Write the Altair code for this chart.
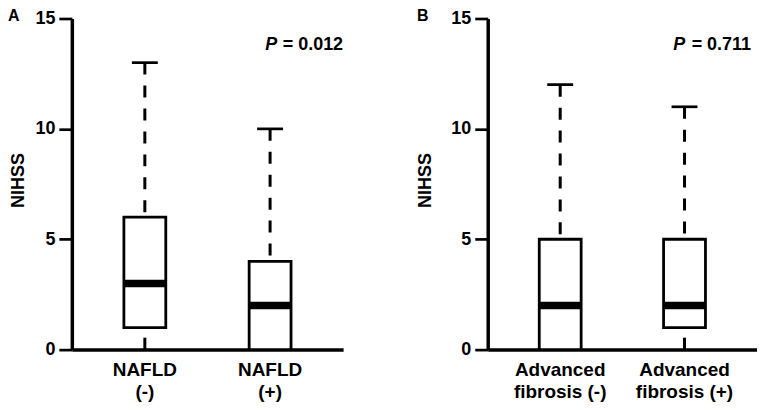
import altair as alt
import pandas as pd

# ---- data ----
groups_a = ["NAFLD (-)", "NAFLD (+)"]
min_a = [0, 0]
q1_a = [1, 0]
median_a = [3, 2]
q3_a = [6, 4]
max_a = [13, 10]

groups_b = ["Advanced fibrosis (-)", "Advanced fibrosis (+)"]
min_b = [0, 0]
q1_b = [0, 1]
median_b = [2, 2]
q3_b = [5, 5]
max_b = [12, 11]

p_a = "0.012"
p_b = "0.711"
y_ticks = [0, 5, 10, 15]

FONT = "Liberation Sans"
H = 332


def panel(letter, groups, mins, q1s, meds, q3s, maxs, p, width, title_x, letter_x, p_x):
    df = pd.DataFrame(dict(group=groups, lo=mins, q1=q1s, med=meds, q3=q3s, hi=maxs))
    base = alt.Chart(df)
    xaxis = alt.Axis(
        ticks=False, domainWidth=3.5, domainColor="black", labelAngle=0,
        labelFont=FONT, labelFontSize=19, labelFontWeight="bold", labelColor="black",
        labelPadding=11, labelLineHeight=22,
        labelExpr="[slice(datum.label, 0, indexof(datum.label, ' ')), "
                  "slice(datum.label, indexof(datum.label, ' ') + 1)]",
    )
    xscale = alt.Scale(paddingInner=0, paddingOuter=0.083)

    def xenc():
        return alt.X("group:N", sort=groups, title=None, scale=xscale, axis=xaxis)

    yscale = alt.Scale(domain=[0, 15], nice=False, zero=True)
    yaxis = alt.Axis(
        values=y_ticks, grid=False, domainWidth=3.5, domainColor="black",
        tickColor="black", tickSize=13, tickWidth=2.7,
        labelFont=FONT, labelFontSize=18, labelFontWeight="bold", labelColor="black",
        labelPadding=4,
        titleFont=FONT, titleFontSize=18, titleFontWeight="bold", titleColor="black",
        titleX=title_x, titleY=H / 2 - 4, titleBaseline="middle", titleAngle=270,
    )

    def yenc(f):
        return alt.Y(f + ":Q", scale=yscale, axis=yaxis, title="NIHSS")

    upper = base.mark_rule(color="black", strokeWidth=3, strokeDash=[12, 11]).encode(
        x=xenc(), y=yenc("hi"), y2="q3:Q")
    lower = base.transform_filter("datum.q1 > datum.lo").mark_rule(
        color="black", strokeWidth=3, strokeDash=[12, 11]).encode(
        x=xenc(), y=yenc("lo"), y2="q1:Q")
    cap = base.mark_tick(color="black", size=26, thickness=2.7, opacity=1).encode(
        x=xenc(), y=yenc("hi"))
    box = base.mark_bar(size=42, fill="white", stroke="black", strokeWidth=2.8).encode(
        x=xenc(), y=yenc("q1"), y2="q3:Q")
    median = base.mark_tick(color="black", size=42, thickness=7.5, opacity=1).encode(
        x=xenc(), y=yenc("med"))

    tdf = pd.DataFrame({"letter": [letter], "p": ["= " + p]})
    tb = alt.Chart(tdf)
    letter_t = tb.mark_text(font=FONT, fontSize=16, fontWeight="bold", align="left",
                            baseline="alphabetic", color="black").encode(
        x=alt.value(letter_x), y=alt.value(3), text="letter:N")
    p_it = tb.mark_text(font=FONT, fontSize=18, fontWeight="bold", fontStyle="italic",
                        align="right", baseline="alphabetic", color="black").encode(
        x=alt.value(p_x - 66), y=alt.value(32), text=alt.value("P"))
    p_val = tb.mark_text(font=FONT, fontSize=18, fontWeight="bold",
                         align="right", baseline="alphabetic", color="black").encode(
        x=alt.value(p_x), y=alt.value(32), text="p:N")

    return alt.layer(upper, lower, cap, box, median, letter_t, p_it, p_val).properties(
        width=width, height=H)


panel_a = panel("A", groups_a, min_a, q1_a, median_a, q3_a, max_a, p_a,
                width=272, title_x=-53, letter_x=-64, p_x=272)
panel_b = panel("B", groups_b, min_b, q1_b, median_b, q3_b, max_b, p_b,
                width=270, title_x=-62, letter_x=-71, p_x=264)

chart = alt.hconcat(panel_a, panel_b, spacing=74).properties(
    padding={"left": 0, "top": 0, "right": 0, "bottom": 0},
    background="white",
).configure_view(stroke=None)

chart.save("out.html", embed_options={"renderer": "svg", "actions": False})
